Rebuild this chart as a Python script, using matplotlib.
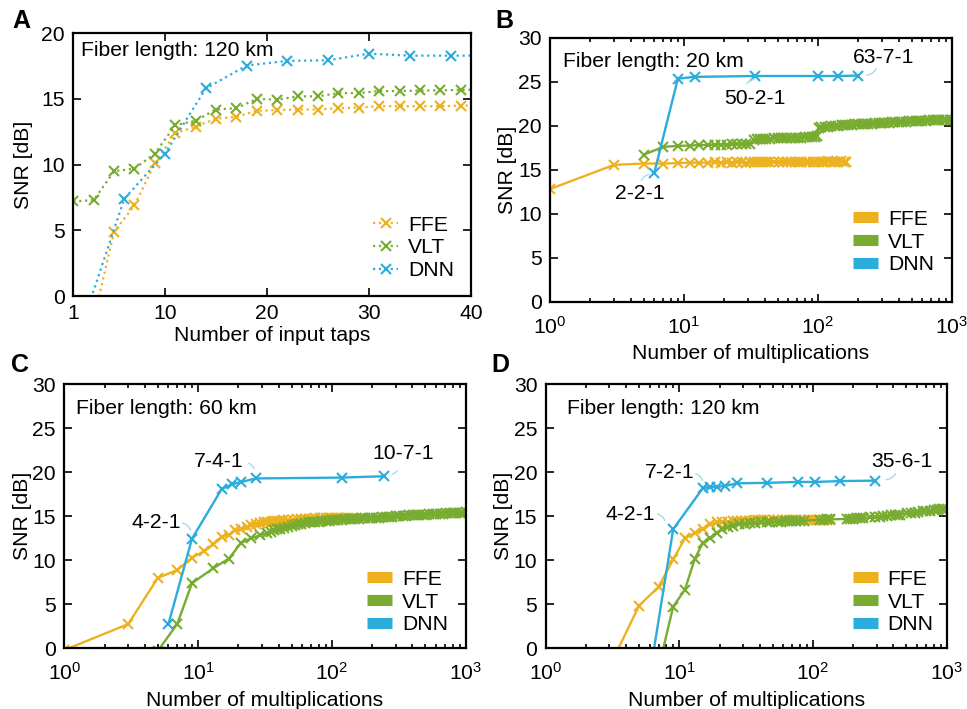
import matplotlib
matplotlib.use("Agg")
import matplotlib.pyplot as plt
from matplotlib.lines import Line2D

plt.rcParams['font.family'] = ['Liberation Sans', 'DejaVu Sans']
plt.rcParams['mathtext.fontset'] = 'custom'
plt.rcParams['mathtext.rm'] = 'Liberation Sans'
plt.rcParams['mathtext.default'] = 'rm'

# === 顏色 ===
c_ffe = '#EDB120'
c_vlt = '#77AC30'
c_dnn = '#2BACDB'
c_lead = '#A6DAEE'

# === A: 120 km, SNR vs input taps ===
a_ffe_x = [3, 5, 7, 9, 11, 13, 15, 17, 19, 21, 23, 25, 27, 29, 31, 33, 35, 37, 39, 41]
a_ffe_y = [-1.8, 4.9, 6.9, 10.1, 12.4, 12.9, 13.5, 13.65, 14.1, 14.15,
           14.2, 14.2, 14.3, 14.35, 14.45, 14.45, 14.45, 14.45, 14.5, 14.5]
a_vlt_x = [1, 3, 5, 7, 9, 11, 13, 15, 17, 19, 21, 23, 25, 27, 29, 31, 33, 35, 37, 39, 41]
a_vlt_y = [7.2, 7.3, 9.5, 9.7, 10.85, 13.0, 13.35, 14.2, 14.3, 15.0,
           14.95, 15.2, 15.2, 15.45, 15.45, 15.6, 15.6, 15.65, 15.65, 15.7, 15.7]
a_dnn_x = [2, 6, 10, 14, 18, 22, 26, 30, 34, 38, 42]
a_dnn_y = [-1.9, 7.4, 10.85, 15.8, 17.55, 17.9, 17.95, 18.45, 18.3, 18.3, 18.3]

# === B: 20 km ===
b_ffe_x = [1, 3, 5, 7, 9, 11, 13, 15, 17, 19,
           21, 23, 25, 27, 29, 31, 33, 35, 37, 39,
           41, 43, 47, 51, 55, 59, 63, 67, 71, 75,
           81, 85, 91, 95, 101, 107, 113, 119, 127, 133,
           141, 149, 155, 163]
b_ffe_y = [12.8, 15.55, 15.7, 15.7, 15.75, 15.8, 15.8, 15.8, 15.85, 15.8,
           15.85, 15.8, 15.85, 15.85, 15.8, 15.85, 15.85, 15.9, 15.85, 15.85,
           15.9, 15.85, 15.9, 15.85, 15.9, 15.9, 15.85, 15.9, 15.9, 15.85,
           15.9, 15.9, 15.9, 15.85, 15.9, 15.9, 15.9, 15.95, 15.9, 15.9,
           15.9, 15.95, 15.9, 15.9]
b_vlt_x = [5, 7, 9, 11, 13, 15, 17, 19, 21, 23,
           25, 27, 29, 31, 33, 35, 37, 39, 41, 44,
           47, 50, 53, 56, 59, 63, 67, 71, 75, 80,
           85, 90, 95, 99, 101, 106, 112, 119, 126, 134,
           142, 150, 159, 168, 178, 189, 200, 212, 225, 238,
           252, 267, 283, 300, 318, 337, 357, 378, 401, 425,
           450, 477, 506, 536, 568, 602, 638, 676, 717, 760,
           805, 853, 904, 958, 1000]
b_vlt_y = [16.7, 17.6, 17.7, 17.75, 17.8, 17.8, 17.85, 17.85, 17.85, 17.9,
           17.9, 17.9, 17.95, 17.95, 18.4, 18.45, 18.45, 18.5, 18.5, 18.5,
           18.55, 18.55, 18.55, 18.6, 18.6, 18.6, 18.6, 18.65, 18.65, 18.7,
           18.7, 18.75, 18.75, 18.8, 19.7, 19.8, 19.85, 19.9, 19.95, 20.0,
           20.0, 20.05, 20.05, 20.1, 20.1, 20.15, 20.15, 20.2, 20.2, 20.25,
           20.25, 20.3, 20.3, 20.3, 20.35, 20.35, 20.4, 20.4, 20.4, 20.45,
           20.45, 20.5, 20.5, 20.5, 20.55, 20.55, 20.55, 20.6, 20.6, 20.6,
           20.65, 20.65, 20.65, 20.7, 20.7]
b_dnn_x = [6, 9, 12, 34, 100, 140, 200]
b_dnn_y = [14.65, 25.35, 25.55, 25.65, 25.65, 25.65, 25.7]

# === C: 60 km ===
c_ffe_x = [1, 3, 5, 7, 9, 11, 13, 15, 17, 19,
           21, 23, 25, 27, 29, 31, 33, 35, 37, 39,
           41, 43, 47, 51, 55, 59, 63, 67, 71, 75,
           81, 85, 91, 95, 101, 107, 113, 119, 127, 133,
           141]
c_ffe_y = [-0.2, 2.75, 8.0, 8.9, 10.3, 11.0, 11.8, 12.7, 12.9, 13.4,
           13.6, 13.8, 14.0, 14.1, 14.2, 14.3, 14.35, 14.4, 14.45, 14.5,
           14.5, 14.55, 14.6, 14.6, 14.65, 14.65, 14.7, 14.7, 14.7, 14.75,
           14.75, 14.75, 14.75, 14.8, 14.8, 14.8, 14.8, 14.8, 14.8, 14.8,
           14.8]
c_vlt_x = [5, 7, 9, 13, 17, 21, 25, 29, 33, 35,
           37, 39, 41, 44, 47, 50, 53, 56, 59, 63,
           67, 71, 75, 80, 85, 90, 95, 100, 106, 112,
           119, 126, 134, 142, 150, 159, 168, 178, 189, 200,
           212, 225, 238, 252, 267, 283, 300, 318, 337, 357,
           378, 401, 425, 450, 477, 506, 536, 568, 602, 638,
           676, 717, 760, 805, 853, 904, 958, 1000]
c_vlt_y = [-0.3, 2.8, 7.4, 9.1, 10.2, 12.0, 12.5, 12.85, 13.1, 13.25,
           13.4, 13.5, 13.6, 13.7, 13.8, 13.9, 14.0, 14.1, 14.15, 14.2,
           14.3, 14.3, 14.4, 14.4, 14.45, 14.5, 14.5, 14.55, 14.55, 14.6,
           14.6, 14.65, 14.65, 14.7, 14.7, 14.7, 14.75, 14.75, 14.8, 14.8,
           14.85, 14.85, 14.9, 14.9, 14.95, 14.95, 15.0, 15.0, 15.05, 15.05,
           15.1, 15.1, 15.15, 15.15, 15.2, 15.2, 15.25, 15.25, 15.3, 15.3,
           15.3, 15.35, 15.35, 15.35, 15.4, 15.4, 15.4, 15.45]
c_dnn_x = [6, 9, 15, 18, 21, 27, 118, 245]
c_dnn_y = [2.75, 12.45, 18.1, 18.65, 18.9, 19.3, 19.4, 19.55]

# === D: 120 km ===
d_ffe_x = [3, 5, 7, 9, 11, 13, 15, 17, 19, 21,
           23, 25, 27, 29, 31, 33, 35, 37, 39, 41,
           43, 47, 51, 55, 59, 63, 67, 71, 75, 81,
           85, 91, 95, 101, 107, 113, 119, 127, 133]
d_ffe_y = [-2.1, 4.85, 7.0, 10.1, 12.5, 13.1, 13.6, 14.1, 14.3, 14.35,
           14.4, 14.45, 14.45, 14.5, 14.5, 14.5, 14.5, 14.55, 14.55, 14.55,
           14.55, 14.55, 14.55, 14.6, 14.6, 14.6, 14.6, 14.6, 14.6, 14.6,
           14.6, 14.6, 14.6, 14.6, 14.6, 14.6, 14.6, 14.6, 14.6]
d_vlt_x = [7, 9, 11, 13, 15, 17, 19, 21, 23, 25,
           28, 31, 34, 37, 41, 45, 48, 55, 58, 62,
           66, 70, 75, 80, 86, 112, 120, 127, 134, 180,
           190, 200, 212, 224, 235, 268, 290, 316, 335, 360,
           385, 410, 430, 450, 505, 540, 575, 610, 665, 705,
           750, 800, 845, 880, 920, 960]
d_vlt_y = [-2.2, 4.75, 6.65, 10.1, 12.0, 12.5, 13.1, 13.5, 13.8, 13.95,
           14.1, 14.15, 14.2, 14.25, 14.3, 14.3, 14.35, 14.4, 14.4, 14.45,
           14.45, 14.45, 14.5, 14.5, 14.5, 14.6, 14.6, 14.65, 14.65, 14.7,
           14.7, 14.7, 14.75, 14.75, 14.8, 14.9, 14.9, 14.95, 15.0, 15.05,
           15.1, 15.15, 15.15, 15.2, 15.35, 15.4, 15.4, 15.45, 15.55, 15.6,
           15.65, 15.7, 15.75, 15.8, 15.85, 15.85]
d_dnn_x = [6, 9, 15, 17, 19, 22, 27, 45, 77, 103, 159, 291]
d_dnn_y = [-3.1, 13.55, 18.2, 18.35, 18.35, 18.45, 18.75, 18.8, 18.9, 18.9, 19.0, 19.05]

# === DNN 結構標註: (文字, 文字位置, 引線起點, 引線終點) ===
b_notes = [("2-2-1", (4.65, 12.3), (4.71, 13.5), (5.76, 14.5)),
           ("50-2-1", (33.6, 23.1), (28.7, 24.5), (35.2, 25.3)),
           ("63-7-1", (306, 27.8), (277, 26.8), (221, 25.7))]
c_notes = [("4-2-1", (4.9, 14.3), (7.3, 14.3), (8.9, 13.1)),
           ("7-4-1", (14.2, 21.2), (22.8, 21.1), (26.6, 20.1)),
           ("10-7-1", (342, 22.1), (314, 20.45), (268, 19.75))]
d_notes = [("4-2-1", (4.27, 15.15), (6.56, 15.3), (7.94, 14.2)),
           ("7-2-1", (8.41, 19.95), (12.7, 19.9), (15.1, 18.75)),
           ("35-6-1", (460, 21.2), (422, 20.1), (335, 19.15))]

FS = 15.2


def style_axes(ax, xpad=6):
    for s in ax.spines.values():
        s.set_linewidth(1.6)
    ax.tick_params(which='both', direction='in', top=True, right=True,
                   width=1.2, labelsize=FS)
    ax.tick_params(which='major', length=5.5)
    ax.tick_params(which='minor', length=3)
    ax.tick_params(axis='x', pad=xpad)
    ax.tick_params(axis='y', pad=6)


def legend_at(ax, handles, x, y):
    ax.legend(handles, ['FFE', 'VLT', 'DNN'], loc='center left', frameon=False,
              fontsize=FS, handlelength=1.2, handletextpad=0.45,
              labelspacing=0.18, borderpad=0, borderaxespad=0,
              bbox_to_anchor=(x, y))


def log_panel(ax, ffe, vlt, dnn, notes, title, tx, leg):
    kw = dict(marker='x', ms=7, mew=1.5, lw=1.7)
    ax.plot(ffe[0], ffe[1], color=c_ffe, **kw)
    ax.plot(vlt[0], vlt[1], color=c_vlt, **kw)
    ax.plot(dnn[0], dnn[1], color=c_dnn, **kw)
    ax.set_xscale('log')
    ax.set_xlim(1, 1000)
    ax.set_ylim(0, 30)
    ax.set_xticks([1, 10, 100, 1000])
    ax.set_xticklabels(['$10^{0}$', '$10^{1}$', '$10^{2}$', '$10^{3}$'])
    ax.set_yticks([0, 5, 10, 15, 20, 25, 30])
    ax.set_xlabel("Number of multiplications", fontsize=FS, labelpad=5)
    ax.set_ylabel("SNR [dB]", fontsize=FS, labelpad=0.5)
    ax.text(tx, 0.91, title, transform=ax.transAxes, fontsize=FS, va='center')
    for label, pos, p0, p1 in notes:
        ax.text(pos[0], pos[1], label, fontsize=FS, ha='center', va='center')
        ax.annotate("", xy=p1, xytext=p0,
                    arrowprops=dict(arrowstyle='-', color=c_lead, lw=1.0,
                                    connectionstyle='arc3,rad=-0.35'))
    handles = [Line2D([0], [0], color=c, lw=8, solid_capstyle='butt')
               for c in (c_ffe, c_vlt, c_dnn)]
    legend_at(ax, handles, leg[0], leg[1])
    style_axes(ax, xpad=10)


fig = plt.figure(figsize=(9.67, 7.09), dpi=100)

# --- A ---
ax = fig.add_axes([0.0758, 0.5825, 0.4112, 0.3705])
kw = dict(marker='x', ms=7, mew=1.5, lw=1.6, ls=':')
ax.plot(a_ffe_x, a_ffe_y, color=c_ffe, **kw)
ax.plot(a_vlt_x, a_vlt_y, color=c_vlt, **kw)
ax.plot(a_dnn_x, a_dnn_y, color=c_dnn, **kw)
ax.set_xlim(1, 40)
ax.set_ylim(0, 20)
ax.set_xticks([1, 10, 20, 30, 40])
ax.set_yticks([0, 5, 10, 15, 20])
ax.set_xlabel("Number of input taps", fontsize=FS, labelpad=2)
ax.set_ylabel("SNR [dB]", fontsize=FS, labelpad=6)
ax.text(0.02, 0.933, "Fiber length: 120 km", transform=ax.transAxes,
        fontsize=FS, va='center')
legend_at(ax, ax.get_lines(), 0.7536, 0.183)
style_axes(ax)

# --- B, C, D ---
ax = fig.add_axes([0.5688, 0.5745, 0.4157, 0.3723])
log_panel(ax, (b_ffe_x, b_ffe_y), (b_vlt_x, b_vlt_y), (b_dnn_x, b_dnn_y),
          b_notes, "Fiber length: 20 km", 0.032, (0.7537, 0.226))
ax = fig.add_axes([0.0665, 0.0856, 0.4151, 0.3724])
log_panel(ax, (c_ffe_x, c_ffe_y), (c_vlt_x, c_vlt_y), (c_dnn_x, c_dnn_y),
          c_notes, "Fiber length: 60 km", 0.03, (0.754, 0.175))
ax = fig.add_axes([0.5643, 0.0856, 0.4147, 0.3724])
log_panel(ax, (d_ffe_x, d_ffe_y), (d_vlt_x, d_vlt_y), (d_dnn_x, d_dnn_y),
          d_notes, "Fiber length: 120 km", 0.053, (0.766, 0.175))

# --- 面板字母 ---
for letter, x, y in [('A', 0.0217, 0.9704), ('B', 0.522, 0.9704),
                     ('C', 0.0207, 0.485), ('D', 0.517, 0.485)]:
    fig.text(x, y, letter, fontsize=18, fontweight='bold', ha='center', va='center')

fig.savefig("out.png", dpi=100)
